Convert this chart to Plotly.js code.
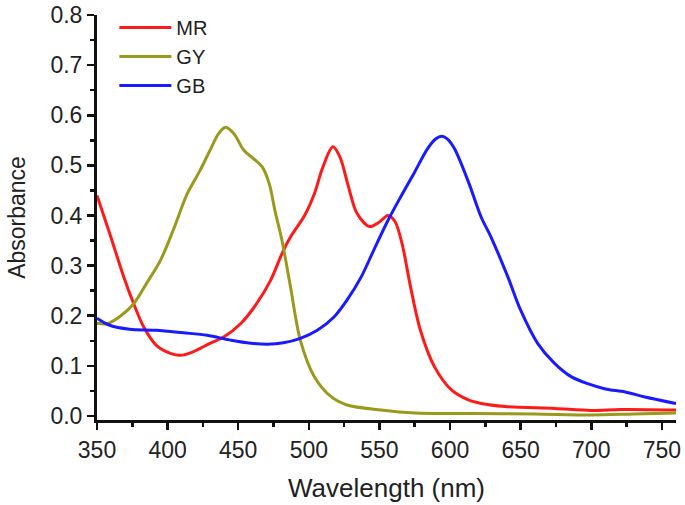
<!DOCTYPE html>
<html>
<head>
<meta charset="utf-8">
<script src="https://cdn.plot.ly/plotly-3.0.1.min.js"></script>
<style>
  html, body { margin: 0; padding: 0; background: #fff; }
  #chart { width: 685px; height: 505px; }
</style>
</head>
<body>
<div id="chart"></div>
<script>
// spectra (wavelength in nm, absorbance)
let mrX = [350, 359, 369, 376, 383, 392, 402, 409, 418, 430, 440, 452, 463, 473, 481, 487, 497, 504, 510, 517, 522, 528, 534, 543, 550, 556, 561, 566, 572, 579, 589, 601, 613, 622, 639, 674, 700, 721, 760];
let mrY = [0.44, 0.364, 0.277, 0.224, 0.178, 0.141, 0.125, 0.121, 0.128, 0.145, 0.158, 0.185, 0.224, 0.271, 0.324, 0.357, 0.400, 0.444, 0.497, 0.537, 0.517, 0.458, 0.405, 0.378, 0.387, 0.400, 0.388, 0.344, 0.258, 0.171, 0.098, 0.052, 0.032, 0.025, 0.019, 0.015, 0.011, 0.013, 0.012];

let gyX = [350, 357, 366, 376, 385, 395, 404, 414, 423, 430, 436, 441, 447, 454, 461, 467, 472, 476, 481, 487, 494, 504, 516, 527, 551, 575, 617, 660, 700, 730, 760];
let gyY = [0.185, 0.184, 0.198, 0.224, 0.264, 0.311, 0.371, 0.444, 0.490, 0.530, 0.563, 0.576, 0.563, 0.530, 0.513, 0.497, 0.463, 0.410, 0.350, 0.258, 0.151, 0.078, 0.038, 0.022, 0.012, 0.006, 0.005, 0.004, 0.002, 0.004, 0.006];

let gbX = [350, 359, 373, 392, 411, 428, 445, 459, 471, 482, 494, 506, 518, 527, 537, 546, 556, 565, 575, 584, 590, 594, 598, 603, 613, 622, 629, 641, 650, 662, 674, 686, 698, 710, 724, 738, 760];
let gbY = [0.195, 0.181, 0.173, 0.171, 0.166, 0.161, 0.151, 0.145, 0.143, 0.146, 0.155, 0.171, 0.198, 0.231, 0.277, 0.331, 0.390, 0.437, 0.487, 0.533, 0.553, 0.558, 0.553, 0.534, 0.467, 0.397, 0.357, 0.277, 0.211, 0.145, 0.105, 0.078, 0.064, 0.054, 0.048, 0.038, 0.025];

let font = '"Liberation Sans", Arial, sans-serif';

function trace(name, x, y, color) {
    return {
        type: 'scatter',
        mode: 'lines',
        name: name,
        x: x,
        y: y,
        line: {color: color, width: 3, shape: 'spline', smoothing: 0.9}
    };
}

let data = [
    trace('MR', mrX, mrY, '#ff1a1a'),
    trace('GY', gyX, gyY, '#999a1c'),
    trace('GB', gbX, gbY, '#1a1aff')
];

let axisCommon = {
    showline: true,
    linecolor: '#111',
    linewidth: 3,
    ticks: 'outside',
    ticklen: 7,
    tickwidth: 2.5,
    tickcolor: '#111',
    showgrid: false,
    zeroline: false,
    mirror: false,
    tickfont: {family: font, size: 23, color: '#222'}
};

let layout = {
    width: 685,
    height: 505,
    margin: {l: 97, r: 9, t: 14, b: 85},
    paper_bgcolor: '#fff',
    plot_bgcolor: '#fff',
    showlegend: true,
    legend: {
        x: 0.03,
        y: 1.015,
        xanchor: 'left',
        yanchor: 'top',
        bgcolor: 'rgba(0,0,0,0)',
        itemwidth: 52,
        tracegroupgap: 0,
        font: {family: font, size: 20, color: '#222'}
    },
    xaxis: Object.assign({}, axisCommon, {
        range: [350, 760],
        tickvals: [350, 400, 450, 500, 550, 600, 650, 700, 750],
        minor: {ticks: 'outside', ticklen: 4, tickwidth: 2.5, tickcolor: '#111', dtick: 25, tick0: 350},
        title: {text: 'Wavelength (nm)', font: {family: font, size: 26, color: '#222'}, standoff: 18}
    }),
    yaxis: Object.assign({}, axisCommon, {
        range: [-0.008, 0.8],
        tickvals: [0, 0.1, 0.2, 0.3, 0.4, 0.5, 0.6, 0.7, 0.8],
        tickformat: '.1f',
        minor: {ticks: 'outside', ticklen: 4, tickwidth: 2.5, tickcolor: '#111', dtick: 0.05, tick0: 0},
        title: {text: 'Absorbance', font: {family: font, size: 23, color: '#222'}, standoff: 19}
    })
};

Plotly.newPlot('chart', data, layout, {displayModeBar: false, staticPlot: true});
</script>
</body>
</html>
